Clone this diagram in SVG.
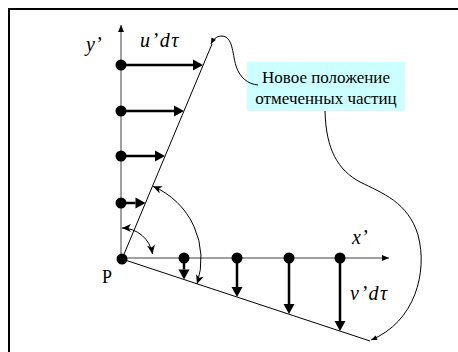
<svg xmlns="http://www.w3.org/2000/svg" width="458" height="352" viewBox="0 0 458 352">
<style>
.axis{stroke:#808080;stroke-width:1.5;fill:none}
.vec{stroke:#000;stroke-width:2.5;fill:none}
.thin{stroke:#000;stroke-width:1;fill:none}
.dot{fill:#000}
text{font-family:"Times New Roman",Times,"Liberation Serif",Tinos,"Noto Serif","DejaVu Serif",serif;fill:#000}
.lbl{font-style:italic;font-size:20px}
.txt{font-size:17px}
.p{font-size:18px}
</style>
<defs>
<marker id="big" markerUnits="userSpaceOnUse" markerWidth="10" markerHeight="11" refX="0" refY="5.5" orient="auto" overflow="visible">
<path d="M0,0 L10,5.5 L0,11 z" fill="#000"/>
</marker>
<marker id="ax" markerUnits="userSpaceOnUse" markerWidth="7" markerHeight="6" refX="7" refY="3" orient="auto" overflow="visible">
<path d="M0,0 L7,3 L0,6 z" fill="#000"/>
</marker>
<marker id="sm" markerUnits="userSpaceOnUse" markerWidth="9" markerHeight="8" refX="9" refY="4" orient="auto-start-reverse" overflow="visible">
<path d="M0,0 L9,4 L0,8 L2.5,4 z" fill="#000"/>
</marker>
<marker id="tiny" markerUnits="userSpaceOnUse" markerWidth="6" markerHeight="5" refX="6" refY="2.5" orient="auto" overflow="visible">
<path d="M0,0 L6,2.5 L0,5 z" fill="#000"/>
</marker>
</defs>
<rect x="9" y="9" width="470" height="370" fill="none" stroke="#000" stroke-width="2"/>
<g id="label">
<rect x="247" y="62" width="158" height="49" fill="#ccffff"/>
<text class="txt" x="326" y="83" text-anchor="middle">Новое положение</text>
<text class="txt" x="326" y="104" text-anchor="middle">отмеченных частиц</text>
</g>
<g id="connectors">
<line class="axis" x1="121" y1="259" x2="121" y2="25" marker-end="url(#ax)"/>
<line class="axis" x1="122" y1="258" x2="389" y2="258" marker-end="url(#ax)"/>
<line class="thin" x1="122" y1="259" x2="212" y2="44"/>
<line class="thin" x1="122" y1="259" x2="370" y2="341"/>
<line class="vec" x1="121" y1="65" x2="193" y2="65" marker-end="url(#big)"/>
<line class="vec" x1="121" y1="111" x2="174" y2="111" marker-end="url(#big)"/>
<line class="vec" x1="121" y1="156" x2="155" y2="156" marker-end="url(#big)"/>
<line class="vec" x1="121" y1="203" x2="135.5" y2="203" marker-end="url(#big)"/>
<line class="vec" x1="184" y1="258" x2="184" y2="269.5" marker-end="url(#big)"/>
<line class="vec" x1="237" y1="258" x2="237" y2="287" marker-end="url(#big)"/>
<line class="vec" x1="289" y1="258" x2="289" y2="304" marker-end="url(#big)"/>
<line class="vec" x1="340" y1="258" x2="340" y2="321" marker-end="url(#big)"/>
<path class="thin" d="M122,228 A31,31 0 0 1 152.5,254" marker-start="url(#sm)" marker-end="url(#sm)"/>
<path class="thin" d="M152.9,186.3 A79,79 0 0 1 197,284" marker-start="url(#sm)" marker-end="url(#sm)"/>
<path class="thin" d="M258,85 C248,84 240,78 236,66 C232,52 233,37 222,36 C216,36 213,40 211,44" marker-end="url(#tiny)"/>
<path class="thin" d="M325,111 C326,150 338,170 360,182 C382,193 408,202 418,235 C428,272 415,322 371,340" marker-end="url(#tiny)"/>
</g>
<g id="dots">
<circle class="dot" cx="121" cy="65" r="5.5"/>
<circle class="dot" cx="121" cy="111" r="5.5"/>
<circle class="dot" cx="121" cy="156" r="5.5"/>
<circle class="dot" cx="121" cy="203" r="5.5"/>
<circle class="dot" cx="122" cy="259" r="5.5"/>
<circle class="dot" cx="184" cy="258" r="5.5"/>
<circle class="dot" cx="237" cy="258" r="5.5"/>
<circle class="dot" cx="289" cy="258" r="5.5"/>
<circle class="dot" cx="340" cy="258" r="5.5"/>
</g>
<g id="labels">
<text class="lbl" x="86" y="51">y’</text>
<text class="lbl" x="140" y="47" letter-spacing="1.5">u’dτ</text>
<text class="lbl" x="352" y="244">x’</text>
<text class="lbl" x="350" y="300" letter-spacing="1.5">v’dτ</text>
<text class="p" x="102" y="283">P</text>
</g>
</svg>
